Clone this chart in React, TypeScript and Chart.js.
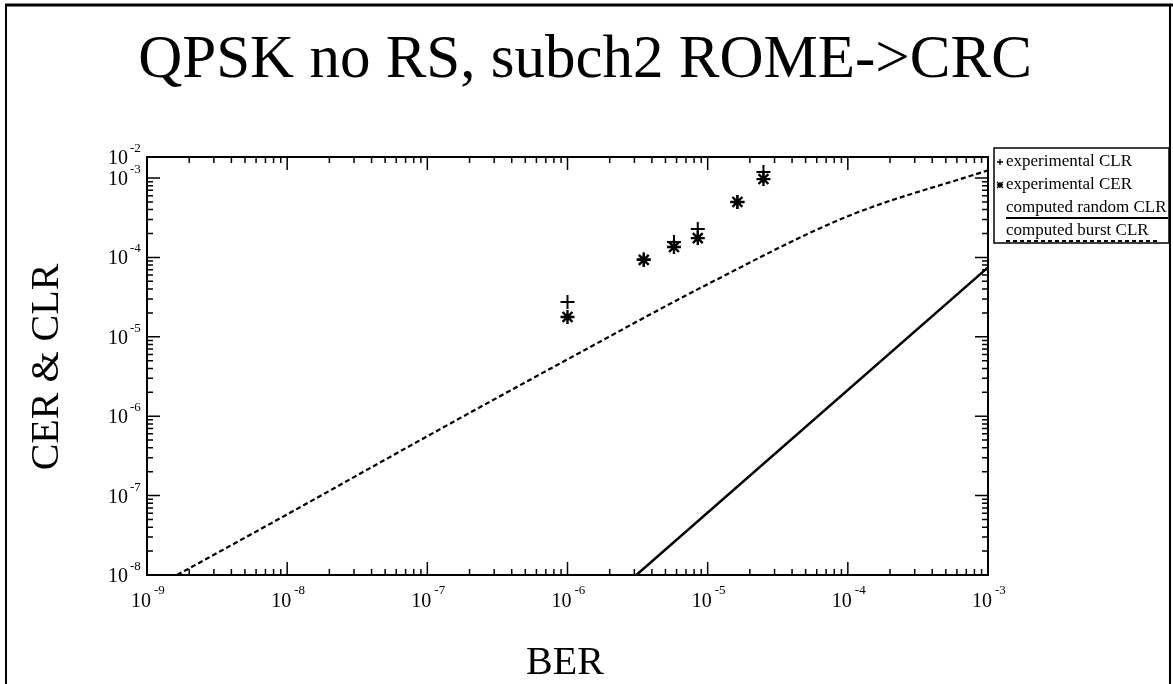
import React, { useEffect, useRef } from "react";
import { Chart, registerables } from "chart.js";

Chart.register(...registerables);

const TITLE = "QPSK no RS, subch2 ROME->CRC";
const X_TITLE = "BER";
const Y_TITLE = "CER & CLR";

// experimental points
const berExp = [1.0e-6, 3.5e-6, 5.75e-6, 8.5e-6, 1.63e-5, 2.5e-5];
const clrExp = [2.75e-5, 9.5e-5, 1.56e-4, 2.28e-4, 5.0e-4, 1.19e-3];
const cerExp = [1.78e-5, 9.3e-5, 1.35e-4, 1.75e-4, 5.0e-4, 9.7e-4];

// computed random CLR (solid)
const berRandom = [3.1e-6, 1e-3];
const clrRandom = [1e-8, 7.5e-5];

// computed burst CLR (dashed)
const berBurst = [1.64e-9, 1e-8, 1e-7, 1e-6, 1e-5, 1e-4, 1e-3];
const clrBurst = [1e-8, 5.8e-8, 5.6e-7, 5.2e-6, 4.6e-5, 3.3e-4, 1.25e-3];

// axis range and tick labels
const X_MIN = 1e-9;
const X_MAX = 1e-3;
const Y_MIN = 1e-8;
const Y_MAX = 1.84e-3;
const xTickValues = [1e-9, 1e-8, 1e-7, 1e-6, 1e-5, 1e-4, 1e-3];
const xTickSups = ["-9", "-8", "-7", "-6", "-5", "-4", "-3"];
const yTickValues = [1e-8, 1e-7, 1e-6, 1e-5, 1e-4, 1e-3, Y_MAX];
const yTickSups = ["-8", "-7", "-6", "-5", "-4", "-3", "-2"];

const legendLabels = [
  "experimental CLR",
  "experimental CER",
  "computed random CLR",
  "computed burst CLR",
];

const SERIF = '"Liberation Serif", "Times New Roman", serif';

function pts(xs: number[], ys: number[]) {
  return xs.map((x, i) => ({ x, y: ys[i] }));
}

const overlay = {
  id: "overlay",
  afterDraw(chart: any) {
    const ctx: CanvasRenderingContext2D = chart.ctx;
    const xs = chart.scales.x;
    const ys = chart.scales.y;
    const a = chart.chartArea;
    ctx.save();
    ctx.strokeStyle = "#000";
    ctx.fillStyle = "#000";

    // slide frame
    ctx.lineWidth = 3;
    ctx.beginPath();
    ctx.moveTo(5, 5);
    ctx.lineTo(1173, 5);
    ctx.stroke();
    ctx.lineWidth = 2;
    ctx.beginPath();
    ctx.moveTo(6, 5);
    ctx.lineTo(6, 684);
    ctx.moveTo(1170, 5);
    ctx.lineTo(1170, 684);
    ctx.stroke();

    // plot frame
    ctx.lineWidth = 2;
    ctx.strokeRect(a.left, a.top, a.right - a.left, a.bottom - a.top);

    // ticks
    ctx.lineWidth = 1.5;
    ctx.beginPath();
    for (let d = -9; d <= -3; d++) {
      for (let m = 1; m <= 9; m++) {
        const v = m * Math.pow(10, d);
        if (v < X_MIN * 0.999 || v > X_MAX * 1.001) continue;
        const px = xs.getPixelForValue(v);
        const len = m === 1 ? 13 : 6;
        ctx.moveTo(px, a.bottom);
        ctx.lineTo(px, a.bottom - len);
        ctx.moveTo(px, a.top);
        ctx.lineTo(px, a.top + len);
      }
    }
    for (let d = -8; d <= -3; d++) {
      for (let m = 1; m <= 9; m++) {
        const v = m * Math.pow(10, d);
        if (v < Y_MIN * 0.999 || v > Y_MAX) continue;
        const py = ys.getPixelForValue(v);
        const len = m === 1 ? 13 : 6;
        ctx.moveTo(a.left, py);
        ctx.lineTo(a.left + len, py);
        ctx.moveTo(a.right, py);
        ctx.lineTo(a.right - len, py);
      }
    }
    ctx.stroke();

    // x tick labels
    xTickValues.forEach((v, i) => {
      const px = xs.getPixelForValue(v);
      ctx.font = `20px ${SERIF}`;
      ctx.textAlign = "right";
      ctx.textBaseline = "alphabetic";
      ctx.fillText("10", px + 4, a.bottom + 32);
      ctx.font = `13px ${SERIF}`;
      ctx.textAlign = "left";
      ctx.fillText(xTickSups[i], px + 7, a.bottom + 19);
    });

    // y tick labels
    yTickValues.forEach((v, i) => {
      const py = ys.getPixelForValue(v);
      ctx.font = `20px ${SERIF}`;
      ctx.textAlign = "right";
      ctx.textBaseline = "alphabetic";
      ctx.fillText("10", a.left - 19, py + 7);
      ctx.font = `13px ${SERIF}`;
      ctx.textAlign = "left";
      ctx.fillText(yTickSups[i], a.left - 17, py - 5);
    });

    // title
    ctx.font = `61px ${SERIF}`;
    ctx.textAlign = "center";
    ctx.textBaseline = "alphabetic";
    ctx.fillText(TITLE, 585, 77);

    // axis titles
    ctx.font = `40px ${SERIF}`;
    ctx.fillText(X_TITLE, 565, 674);
    ctx.save();
    ctx.translate(58, 367);
    ctx.rotate(-Math.PI / 2);
    ctx.fillText(Y_TITLE, 0, 0);
    ctx.restore();

    // legend
    const L = 994, T = 148, R = 1169, B = 243;
    ctx.lineWidth = 1.5;
    ctx.strokeRect(L, T, R - L, B - T);
    ctx.font = `17px ${SERIF}`;
    ctx.textAlign = "left";
    const rows = [166, 189, 212, 235];
    ctx.fillText(legendLabels[0], 1006, rows[0]);
    ctx.fillText(legendLabels[1], 1006, rows[1]);
    ctx.fillText(legendLabels[2], 1006, rows[2]);
    ctx.fillText(legendLabels[3], 1006, rows[3]);
    // legend markers
    ctx.lineWidth = 1.3;
    ctx.beginPath();
    const mx = 1000;
    let my = rows[0] - 4;
    ctx.moveTo(mx - 3, my);
    ctx.lineTo(mx + 3, my);
    ctx.moveTo(mx, my - 3);
    ctx.lineTo(mx, my + 3);
    my = rows[1] - 4;
    ctx.moveTo(mx - 3, my);
    ctx.lineTo(mx + 3, my);
    ctx.moveTo(mx, my - 3);
    ctx.lineTo(mx, my + 3);
    ctx.moveTo(mx - 3, my - 3);
    ctx.lineTo(mx + 3, my + 3);
    ctx.moveTo(mx - 3, my + 3);
    ctx.lineTo(mx + 3, my - 3);
    ctx.stroke();
    ctx.lineWidth = 1.8;
    ctx.beginPath();
    ctx.moveTo(1006, rows[2] + 6);
    ctx.lineTo(1168, rows[2] + 6);
    ctx.stroke();
    ctx.setLineDash([4, 3]);
    ctx.beginPath();
    ctx.moveTo(1006, rows[3] + 6);
    ctx.lineTo(1160, rows[3] + 6);
    ctx.stroke();
    ctx.setLineDash([]);

    ctx.restore();
  },
};

export default function App() {
  const ref = useRef<HTMLCanvasElement | null>(null);
  useEffect(() => {
    if (!ref.current) return;
    const chart = new Chart(ref.current, {
      type: "scatter",
      data: {
        datasets: [
          {
            label: legendLabels[0],
            data: pts(berExp, clrExp),
            pointStyle: "cross",
            pointRadius: 7,
            borderColor: "#000",
            backgroundColor: "#000",
            borderWidth: 2,
            showLine: false,
          },
          {
            label: legendLabels[1],
            data: pts(berExp, cerExp),
            pointStyle: "star",
            pointRadius: 7,
            borderColor: "#000",
            backgroundColor: "#000",
            borderWidth: 2.4,
            showLine: false,
          },
          {
            label: legendLabels[2],
            data: pts(berRandom, clrRandom),
            showLine: true,
            pointRadius: 0,
            borderColor: "#000",
            borderWidth: 2.5,
            tension: 0,
          },
          {
            label: legendLabels[3],
            data: pts(berBurst, clrBurst),
            showLine: true,
            pointRadius: 0,
            borderColor: "#000",
            borderWidth: 2.2,
            borderDash: [5, 3],
            cubicInterpolationMode: "monotone",
          },
        ],
      },
      options: {
        animation: false,
        responsive: true,
        maintainAspectRatio: false,
        layout: { padding: { left: 147, right: 185, top: 157, bottom: 109 } },
        scales: {
          x: { type: "logarithmic", min: X_MIN, max: X_MAX, display: false },
          y: { type: "logarithmic", min: Y_MIN, max: Y_MAX, display: false },
        },
        plugins: {
          legend: { display: false },
          tooltip: { enabled: false },
          title: { display: false },
        },
      },
      plugins: [overlay],
    });
    return () => chart.destroy();
  }, []);
  return (
    <div
      style={{
        position: "fixed",
        left: 0,
        top: 0,
        width: 1173,
        height: 684,
        background: "#fff",
      }}
    >
      <canvas ref={ref} />
    </div>
  );
}
